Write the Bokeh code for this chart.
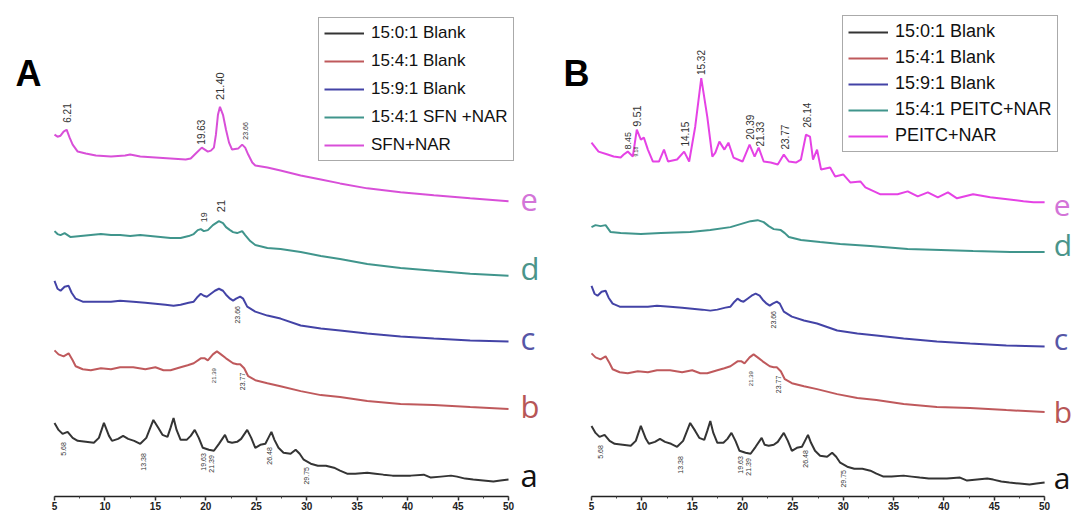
import numpy as np
from bokeh.plotting import figure
from bokeh.models import Range1d, Legend, LegendItem, SingleIntervalTicker, ColumnDataSource
from bokeh.layouts import row
from bokeh.embed import file_html
from bokeh.resources import INLINE
from bokeh.core.properties import value

# ---------------- data (2-theta in degrees, intensity in stacked a.u.) ----------------
# a : 15:0:1 Blank
a_x = [5.0,5.4,5.8,6.3,6.8,7.3,8.1,8.9,9.4,9.9,10.4,10.7,11.3,11.8,12.3,12.9,13.5,14.1,14.8,15.3,
       15.7,16.2,16.5,16.8,17.1,17.5,18.1,18.5,18.9,19.3,19.7,20.3,20.8,21.3,21.9,22.2,22.6,23.1,23.5,24.1,
       24.5,24.9,25.4,25.9,26.2,26.5,26.8,27.2,27.7,28.4,28.9,29.3,29.7,30.4,31.1,31.9,32.7,33.3,34.0,34.8,
       36.0,36.8,37.6,38.5,39.3,40.3,41.6,42.3,43.3,44.3,44.9,45.7,46.5,47.5,48.5,49.2,50.0]
a_y = [74,67,63,65,59,56,55,54,59,74,61,56,58,61,58,56,53,59,77,69,
       62,60,69,79,67,57,57,61,67,59,49,47,46,53,62,55,54,55,58,67,
       59,49,52,53,59,65,57,49,44,43,47,43,37,33,31,31,29,26,23,23,
       24,23,22,21,21,21,22,19,20,21,20,18,17,16,15,16,17]

# b : 15:4:1 Blank
b_x = [5.0,5.4,5.9,6.4,6.8,7.1,7.8,8.6,9.6,10.6,11.5,12.8,14.0,15.0,15.8,16.5,17.5,18.2,18.8,19.5,
       19.9,20.2,20.7,21.1,21.5,22.0,22.7,23.1,23.4,23.8,24.2,24.9,26.1,27.4,29.4,31.4,33.3,36.0,39.3,42.6,
       46.2,50.0]
b_y = [147,143,141,144,137,131,128,127,129,128,130,130,128,130,127,127,130,132,134,139,
       139,137,143,146,143,139,134,133,133,129,121,117,114,111,106,102,100,96,93,92,
       90,88]

# c : 15:9:1 Blank
c_x = [5.0,5.3,5.6,6.0,6.4,6.7,7.1,7.8,8.6,9.6,10.6,11.5,12.8,14.0,15.0,16.0,16.8,17.5,18.3,18.8,
       19.2,19.5,19.8,20.1,20.5,20.9,21.3,21.7,22.0,22.4,22.7,23.0,23.4,23.7,24.1,24.9,26.1,27.4,29.4,31.4,
       33.3,36.0,39.3,42.6,46.2,50.0]
c_y = [217,209,207,211,212,205,199,196,196,196,196,197,196,195,194,193,192,193,195,196,
       201,204,202,201,204,207,209,207,203,199,197,199,201,199,191,186,182,179,172,169,
       167,164,161,159,157,156]

# d (panel A) : 15:4:1 SFN +NAR
dA_x = [5.0,5.3,5.6,6.0,6.6,7.6,8.6,9.6,10.6,11.5,12.5,13.5,14.5,15.5,16.5,17.5,18.3,18.8,19.2,19.5,
        19.8,20.2,20.7,21.3,21.7,22.0,22.4,22.7,23.1,23.6,23.9,24.4,24.9,26.1,27.4,29.4,31.4,33.3,36.0,39.3,
        42.6,46.2,50.0]
dA_y = [267,264,263,265,261,262,263,264,263,263,262,263,262,261,260,260,262,264,268,269,
        267,268,273,277,275,271,268,266,265,267,263,257,253,250,249,246,242,239,234,230,
        227,224,222]

# e (panel A) : SFN+NAR
eA_x = [5.0,5.3,5.6,5.9,6.2,6.5,6.8,7.3,8.1,9.1,10.6,12.0,12.5,13.5,15.0,16.5,18.0,18.5,19.0,19.6,
        19.9,20.2,20.5,20.8,21.0,21.2,21.4,21.7,22.0,22.3,22.6,23.2,23.6,23.9,24.2,24.6,24.9,26.1,27.4,29.4,
        31.4,33.3,36.0,39.3,42.6,46.2,50.0]
eA_y = [364,362,363,367,369,361,354,347,345,343,342,343,344,342,341,340,339,340,345,351,
        349,347,348,351,364,384,392,384,369,356,349,350,354,351,344,336,333,331,328,323,
        319,315,310,306,303,300,297]

# d (panel B) : 15:4:1 PEITC+NAR
dB_x = [5.0,5.4,5.9,6.4,6.9,7.9,9.9,11.9,14.8,16.8,18.8,19.8,20.8,21.5,22.1,22.6,23.1,23.8,24.2,24.6,
        25.8,27.7,29.7,32.7,36.4,39.7,42.9,46.6,50.0]
dB_y = [271,273,272,273,266,265,264,265,266,268,271,274,277,278,276,272,269,268,265,261,
        258,256,254,252,249,248,247,246,246]

# e (panel B) : PEITC+NAR
eB_x = [5.0,5.7,6.6,7.2,7.9,8.2,8.6,9.1,9.5,9.9,10.2,10.6,11.1,11.7,12.2,12.6,13.5,14.2,14.7,15.3,
        15.9,16.5,17.0,17.3,17.7,18.2,18.6,19.1,20.0,20.7,21.2,21.6,22.1,22.8,23.5,24.1,24.6,25.3,25.8,26.3,
        26.7,27.0,27.4,27.8,28.7,29.2,30.0,30.7,31.7,32.2,33.7,35.4,36.4,37.4,38.4,39.4,40.4,41.3,42.9,44.6,
        46.3,47.9,48.9,50.0]
eB_y = [356,347,344,342,341,344,347,342,369,359,361,349,337,337,349,337,339,347,337,372,
        421,382,342,346,357,349,356,341,337,354,342,351,337,336,334,344,337,336,339,364,
        362,339,349,329,331,322,324,316,317,311,304,304,307,302,306,301,306,300,304,301,
        299,297,296,296]

# peak annotations
a_lab = ["5.68", "13.38", "19.63", "21.39", "26.48", "29.75"]
a_lab_x = [5.9, 13.8, 19.8, 20.6, 26.3, 30.0]
a_lab_y = [41, 26, 26, 24, 32, 12]
b_lab = ["21.39", "23.77"]
b_lab_x = [20.8, 23.6]
b_lab_y = [114, 107]
c_lab = ["23.66"]
c_lab_x = [23.1]
c_lab_y = [174]
dA_lab = ["19", "21"]
dA_lab_x = [19.8, 21.55]
dA_lab_y = [276, 286]
eA_lab = ["6.21", "19.63", "21.40", "23.66"]
eA_lab_x = [6.2, 19.5, 21.4, 23.9]
eA_lab_y = [376, 354, 399, 359]
eB_lab = ["8.45", "9.51", "9.18", "14.15", "15.32", "20.39", "21.33", "23.77", "26.14"]
eB_lab_x = [8.6, 9.5, 9.45, 14.3, 15.9, 20.7, 21.7, 24.2, 26.4]
eB_lab_y = [349, 372, 342, 352, 424, 359, 352, 349, 371]

curve_letters = ["e", "d", "c", "b", "a"]
legend_A = ["15:0:1 Blank", "15:4:1 Blank", "15:9:1 Blank", "15:4:1 SFN +NAR", "SFN+NAR"]
legend_B = ["15:0:1 Blank", "15:4:1 Blank", "15:9:1 Blank", "15:4:1 PEITC+NAR", "PEITC+NAR"]

# ---------------- styling ----------------
FONT = "Liberation Sans"
COL = {"a": "#1e1e1e", "b": "#b8474a", "c": "#2f2f9c", "d": "#2b8a80"}
E_COL = {"A": "#d43cd4", "B": "#e22ee2"}
LETTER_COL = ["#d374d8", "#4a958a", "#5656a6", "#b75656", "#111111"]
Y_TOP = 499
Y_BOT = 0


def add_labels(p, labels, xs, ys, sizes, dy=0):
    src = ColumnDataSource(dict(x=xs, y=[v + dy for v in ys], t=labels, s=sizes))
    p.text(x="x", y="y", text="t", source=src, angle=np.pi / 2, text_font_size="s",
           text_font=value(FONT), text_color="#333333", text_align="left", text_baseline="middle")


def make_panel(tag, width, xr, series, letters_x, letters_y, letters_size, panel_xy,
               legend_labels, legend_loc, leg_font, leg_spacing):
    p = figure(width=width, height=512, output_backend="svg", toolbar_location=None,
               x_range=Range1d(*xr), y_range=Range1d(Y_BOT, Y_TOP), y_axis_location=None,
               min_border_left=0, min_border_right=0, min_border_top=0, min_border_bottom=0)
    p.outline_line_color = None
    p.grid.visible = False
    p.background_fill_color = "white"
    p.border_fill_color = "white"

    renderers = []
    for xs, ys, col in series:
        renderers.append(p.line(xs, ys, line_color=col, line_width=2, line_alpha=0.9))

    ax = p.xaxis[0]
    ax.ticker = SingleIntervalTicker(interval=5, num_minor_ticks=2)
    ax.bounds = (5, 50)
    ax.axis_line_color = "#222222"
    ax.axis_line_width = 1.5
    ax.major_tick_out = 4
    ax.major_tick_in = 0
    ax.minor_tick_out = 2
    ax.minor_tick_in = 0
    ax.major_tick_line_width = 1.5
    ax.major_tick_line_color = "#222222"
    ax.minor_tick_line_color = "#444444"
    ax.major_label_standoff = 1
    ax.major_label_text_font = FONT
    ax.major_label_text_font_size = "10px"
    ax.major_label_text_font_style = "bold"
    ax.major_label_text_color = "#222222"

    # curve letters
    p.text(x=[letters_x] * 5, y=letters_y, text=curve_letters, text_color=LETTER_COL,
           text_font=value("Open Sans"), text_font_size=letters_size, text_align="left", text_baseline="middle")
    # panel letter
    p.text(x=[panel_xy[0]], y=[panel_xy[1]], text=[tag], text_font=value(FONT), text_font_size="36px",
           text_font_style="bold", text_color="black", text_align="left", text_baseline="middle")

    items = [LegendItem(label=lab, renderers=[r]) for lab, r in zip(legend_labels, renderers)]
    leg = Legend(items=items, location=legend_loc, label_text_font=FONT, label_text_font_size=leg_font,
                 label_text_color="#111111", glyph_width=40, glyph_height=20, label_height=20,
                 spacing=leg_spacing, padding=5, margin=0, label_standoff=7,
                 border_line_color="#555555", border_line_width=1, background_fill_color="white",
                 background_fill_alpha=1.0)
    p.add_layout(leg)
    return p


pA = make_panel("A", 540, (-0.352, 53.17),
                [(a_x, a_y, COL["a"]), (b_x, b_y, COL["b"]), (c_x, c_y, COL["c"]),
                 (dA_x, dA_y, COL["d"]), (eA_x, eA_y, E_COL["A"])],
                51.2, [298, 230, 159, 91, 22], "31px", (1.13, 426), legend_A, (318, 335), "17px", 8)
add_labels(pA, a_lab, a_lab_x, a_lab_y, ["7px"] * 6)
add_labels(pA, b_lab, b_lab_x, b_lab_y, ["6px", "7px"])
add_labels(pA, c_lab, c_lab_x, c_lab_y, ["7px"])
add_labels(pA, dA_lab, dA_lab_x, dA_lab_y, ["9px", "11px"])
add_labels(pA, eA_lab, eA_lab_x, eA_lab_y, ["10px", "10px", "11px", "7px"])

shiftB = {"a": -3, "b": -3, "c": -5}
pB = make_panel("B", 533, (-0.065, 52.87),
                [(a_x, [v + shiftB["a"] for v in a_y], COL["a"]),
                 (b_x, [v + shiftB["b"] for v in b_y], COL["b"]),
                 (c_x, [v + shiftB["c"] for v in c_y], COL["c"]),
                 (dB_x, dB_y, COL["d"]), (eB_x, eB_y, E_COL["B"])],
                50.9, [293, 254, 159, 86, 19], "30px", (2.22, 426), legend_B, (302, 344), "18px", 5)
add_labels(pB, a_lab, a_lab_x, a_lab_y, ["7px"] * 6, dy=shiftB["a"])
add_labels(pB, b_lab, b_lab_x, b_lab_y, ["6px", "7px"], dy=shiftB["b"])
add_labels(pB, c_lab, c_lab_x, c_lab_y, ["7px"], dy=shiftB["c"])
add_labels(pB, eB_lab, eB_lab_x, eB_lab_y, ["9px", "11px", "5px", "10px", "10px", "10px", "10px", "10px", "10px"])

layout = row(pA, pB)
open("out.html", "w").write(file_html(layout, INLINE))
